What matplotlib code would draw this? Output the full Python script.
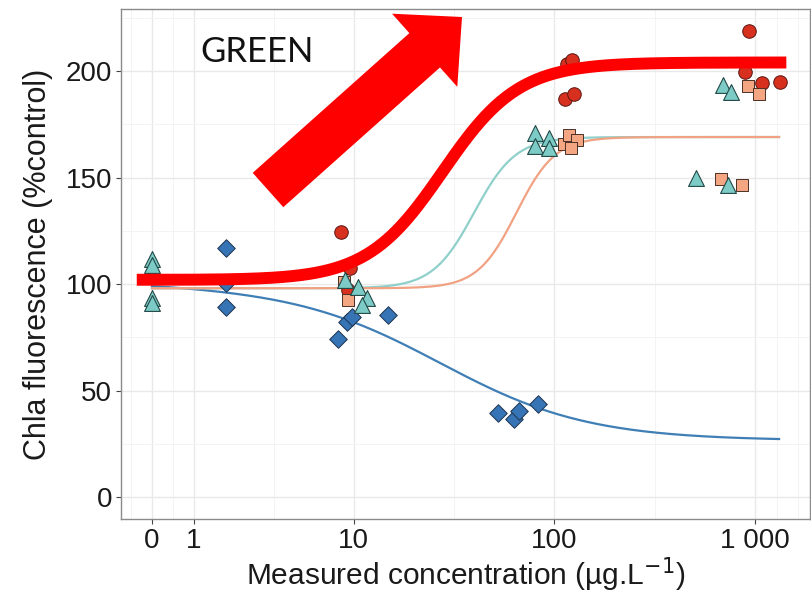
import numpy as np
import matplotlib
matplotlib.use("Agg")
import matplotlib.pyplot as plt
from matplotlib.patches import FancyArrow

plt.rcParams["font.family"] = ["Liberation Sans", "DejaVu Sans"]

# measured points per treatment (concentration, % of control)
diamond_x = [1.9, 1.9, 1.9, 8.3, 9.2, 9.8, 14.8, 52.6, 63.2, 66.9, 83.0]
diamond_y = [117, 100.5, 89, 74, 82, 84.5, 85.4, 39.4, 36.6, 40.4, 43.7]

triangle_x = [0, 0, 0, 0, 9.0, 10.5, 11.6, 11.0, 80, 80, 94, 94, 695, 762, 509, 735]
triangle_y = [111.7, 108.9, 93.4, 91.0, 102, 98.6, 93.4, 90.0, 171, 165, 168.5, 164,
              193.4, 190, 149.8, 146.5]

square_x = [8.9, 9.3, 112, 118.5, 130, 121, 925, 1049, 678, 862]
square_y = [101, 92.5, 165.7, 170, 167.6, 164, 193, 189, 149.3, 146.5]

circle_x = [8.6, 9.6, 9.3, 113.4, 125.7, 116, 122.7, 934, 891, 1084, 1331]
circle_y = [124.4, 107.5, 97, 186.9, 189.2, 203.3, 205.2, 218.8, 199.5, 194.4, 194.8]

# log-logistic fits: (bottom, top, EC50, slope)
fit_blue = (26.5, 99.0, 27.3, 1.18)
fit_teal = (98.0, 169.0, 40.0, 4.2)
fit_orange = (98.0, 169.0, 65.0, 4.5)
fit_red = (102.0, 204.0, 28.0, 2.3)

x_ticks = [0, 1, 10, 100, 1000]
x_ticklabels = ["0", "1", "10", "100", "1 000"]
y_ticks = [0, 50, 100, 150, 200]


def fwd(x):
    return np.arcsinh(np.asarray(x, dtype=float) / 2) / np.log(10)


def inv(t):
    return 2 * np.sinh(np.asarray(t, dtype=float) * np.log(10))


def decreasing(x, p):
    lo, hi, e, b = p
    x = np.maximum(x, 1e-9)
    return lo + (hi - lo) / (1 + (x / e) ** b)


def increasing(x, p):
    lo, hi, e, b = p
    x = np.maximum(x, 1e-9)
    return lo + (hi - lo) / (1 + (e / x) ** b)


fig = plt.figure(figsize=(8.12, 5.97), dpi=100)
ax = fig.add_axes([121 / 812, 78 / 597, 689 / 812, 510 / 597])
ax.set_xscale("function", functions=(fwd, inv))
ax.set_xlim(inv(-0.154), inv(3.273))
ax.set_ylim(-10.3, 229.1)

# grid
minor_x = list(inv([-0.1045, 0.1045, 0.6065, 1.502, 2.5])) + [1283, 1630]
ax.set_xticks(x_ticks)
ax.set_xticklabels(x_ticklabels)
ax.set_xticks(minor_x, minor=True)
ax.set_yticks(y_ticks)
ax.set_yticks([25, 75, 125, 175, 225], minor=True)
ax.grid(which="major", color="#e9e9e9", linewidth=1.0)
ax.grid(which="minor", color="#f3f3f3", linewidth=0.7)
ax.set_axisbelow(True)
ax.tick_params(which="minor", length=0)
ax.tick_params(which="major", length=3.5, width=0.8, color="#444444",
               labelsize=20, labelcolor="#1a1a1a", pad=3)
for s in ax.spines.values():
    s.set_color("#8a8a8a")
    s.set_linewidth(1.0)

# fitted curves
xc = np.concatenate([[0.0], np.geomspace(0.01, 1316, 600)])
ax.plot(xc, decreasing(xc, fit_blue), color="#3f7fb6", lw=1.6, zorder=2)
ax.plot(xc, increasing(xc, fit_teal), color="#8fd0cb", lw=1.6, zorder=2)
ax.plot(xc, increasing(xc, fit_orange), color="#f1a283", lw=1.6, zorder=2)

# points
ax.scatter(circle_x, circle_y, marker="o", s=95, color="#d7301f",
           edgecolor="#5a1510", linewidth=0.7, zorder=3)
ax.scatter(diamond_x, diamond_y, marker="D", s=80, color="#3674b5",
           edgecolor="#1f3550", linewidth=0.7, zorder=3)
ax.scatter(square_x, square_y, marker="s", s=85, color="#f4a582",
           edgecolor="#4a3026", linewidth=0.7, zorder=3)
ax.scatter(triangle_x, triangle_y, marker="^", s=130, color="#7ccbc6",
           edgecolor="#234947", linewidth=0.8, zorder=3)

# highlighted response curve
xr = np.concatenate([[-0.35, 0.0], np.geomspace(0.01, 1430, 600)])
ax.plot(xr, increasing(xr, fit_red), color="#ff0000", lw=8.6,
        solid_capstyle="butt", zorder=4)

ax.set_xlabel("Measured concentration (µg.L$^{-1}$)", fontsize=21.5, labelpad=1,
              color="#1a1a1a")
ax.set_ylabel("Chla fluorescence (%control)", fontsize=22, labelpad=9,
              color="#1a1a1a")

ax.text(200 / 812, (597 - 62) / 597, "GREEN", transform=fig.transFigure,
        fontsize=25, family=["Lato", "DejaVu Sans"], color="#111111",
        va="baseline", ha="left", zorder=6)

arrow = FancyArrow(2.68, 4.07, 1.94, 1.73, width=0.46, head_width=0.98,
                   head_length=0.50, length_includes_head=True,
                   color="#ff0000", lw=0, transform=fig.dpi_scale_trans,
                   zorder=6)
fig.patches.append(arrow)

fig.savefig("out.png", dpi=100)
